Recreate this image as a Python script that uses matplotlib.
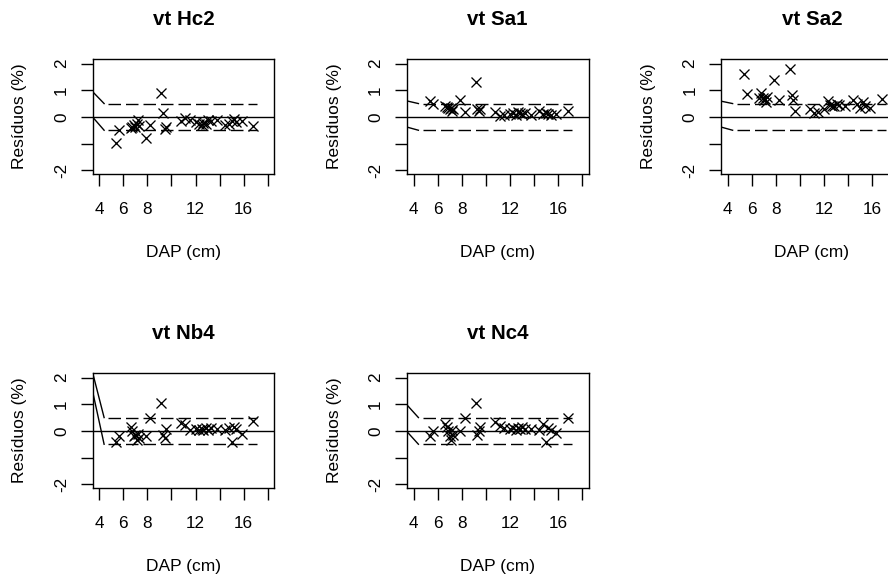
import matplotlib
matplotlib.use("Agg")
import matplotlib.pyplot as plt

plt.rcParams['font.family'] = ['Liberation Sans', 'DejaVu Sans']

# ---- data ----
titles = ["vt Hc2", "vt Sa1", "vt Sa2", "vt Nb4", "vt Nc4"]
dap = [5.35, 5.62, 6.6, 6.75, 6.9, 7.0, 7.1, 7.2, 7.3, 7.88, 8.25, 9.17, 9.3, 9.45,
       9.55, 10.8, 11.15, 11.5, 12.0, 12.3, 12.5, 12.65, 12.85, 13.05, 13.25, 13.75,
       14.45, 14.75, 15.0, 15.2, 15.4, 15.85, 16.8]
res_hc2 = [-0.99, -0.49, -0.42, -0.36, -0.30, -0.38, -0.25, -0.10, -0.33, -0.80, -0.30,
           0.88, 0.16, -0.44, -0.36, -0.16, -0.04, -0.13, -0.18, -0.25, -0.30, -0.22,
           -0.26, -0.10, -0.16, -0.12, -0.32, -0.28, -0.14, -0.08, -0.20, -0.15, -0.35]
res_sa1 = [0.61, 0.49, 0.42, 0.38, 0.33, 0.30, 0.35, 0.22, 0.28, 0.63, 0.17,
           1.32, 0.30, 0.22, 0.28, 0.18, 0.02, 0.06, 0.10, 0.15, 0.08, 0.17,
           0.14, 0.10, 0.16, 0.08, 0.21, 0.12, 0.15, 0.10, 0.07, 0.12, 0.22]
res_sa2 = [1.59, 0.86, 0.70, 0.90, 0.72, 0.62, 0.68, 0.56, 0.74, 1.40, 0.62,
           1.80, 0.82, 0.62, 0.22, 0.28, 0.15, 0.18, 0.28, 0.60, 0.45, 0.40,
           0.42, 0.50, 0.45, 0.40, 0.64, 0.50, 0.32, 0.55, 0.42, 0.35, 0.68]
res_nb4 = [-0.40, -0.18, 0.14, -0.02, -0.20, -0.15, -0.35, -0.10, -0.25, -0.18, 0.48,
           1.04, -0.15, -0.28, 0.06, 0.30, 0.22, 0.05, 0.06, 0.04, 0.07, 0.02,
           0.10, 0.05, 0.10, 0.06, 0.02, 0.12, -0.40, 0.16, 0.06, -0.11, 0.38]
res_nc4 = [-0.18, 0.00, 0.26, 0.15, 0.00, -0.18, -0.33, 0.05, -0.15, -0.02, 0.48,
           1.06, -0.15, 0.00, 0.16, 0.35, 0.19, 0.10, 0.08, 0.10, 0.05, 0.12,
           0.08, 0.13, 0.08, 0.06, 0.03, 0.25, -0.40, 0.10, 0.03, -0.08, 0.48]
residuals = [res_hc2, res_sa1, res_sa2, res_nb4, res_nc4]

# band lines: (start of upper, upper level, start of lower, lower level)
band_upper_start = [0.95, 0.60, 0.59, 2.20, 0.98]
band_upper = [0.50, 0.50, 0.50, 0.50, 0.50]
band_lower_start = [0.00, -0.38, -0.38, 1.50, -0.02]
band_lower = [-0.50, -0.50, -0.50, -0.50, -0.50]
band_x = [4.4, 4.75, 17.15]

xticks = [4, 6, 8, 10, 12, 14, 16, 18]
xticklabels = ["4", "6", "8", "", "12", "", "16", ""]
yticks = [-2, -1, 0, 1, 2]
yticklabels = ["-2", "", "0", "1", "2"]

# ---- layout (pixels) ----
W, H = 888, 576
col_left = [92.5, 406.8, 721.0]
row_top = [59.0, 373.0]
aw, ah = 181.8, 115.0
xlim = (3.435, 18.55)
ylim = (-2.14, 2.17)

fig = plt.figure(figsize=(W / 100, H / 100), dpi=100)
fig.patch.set_facecolor("white")

for i, title in enumerate(titles):
    r, c = divmod(i, 3)
    left = col_left[c]
    top = row_top[r]
    ax = fig.add_axes([left / W, 1 - (top + ah) / H, aw / W, ah / H])
    ax.set_xlim(*xlim)
    ax.set_ylim(*ylim)
    for s in ax.spines.values():
        s.set_linewidth(1.0)
        s.set_color("black")

    ax.axhline(0, color="black", lw=1.0)
    xl = xlim[0]
    ax.plot([xl, band_x[0]], [band_upper_start[i], band_upper[i]], color="black", lw=1.0)
    ax.plot([xl, band_x[0]], [band_lower_start[i], band_lower[i]], color="black", lw=1.0)
    ax.plot([band_x[1], band_x[2]], [band_upper[i]] * 2, color="black", lw=1.0,
            linestyle=(0, (9.0, 3.6)))
    ax.plot([band_x[1], band_x[2]], [band_lower[i]] * 2, color="black", lw=1.0,
            linestyle=(0, (9.0, 3.6)))

    ax.plot(dap, residuals[i], linestyle="none", marker="x", markersize=6.6,
            markeredgewidth=0.95, color="black")

    ax.set_xticks(xticks)
    ax.set_xticklabels(xticklabels, fontsize=12.3)
    ax.set_yticks(yticks)
    ax.set_yticklabels(yticklabels, fontsize=12.3, rotation=90, va="center")
    ax.tick_params(axis="both", direction="out", length=8.5, width=1.0, colors="black")
    ax.tick_params(axis="x", pad=12)
    ax.tick_params(axis="y", pad=8.5)

    ax.text(0.5, 1 + 39.5 / ah, title, transform=ax.transAxes, ha="center",
            va="center", fontsize=14.8, fontweight="bold")
    ax.text(0.5, -(253 - 174) / ah, "DAP (cm)", transform=ax.transAxes,
            ha="center", va="center", fontsize=12.5)
    ax.text(-(92.5 - 20) / aw, 0.5, "Resíduos (%)", transform=ax.transAxes,
            ha="center", va="center", rotation=90, fontsize=12.5)

fig.savefig("out.png", dpi=100, facecolor="white")
